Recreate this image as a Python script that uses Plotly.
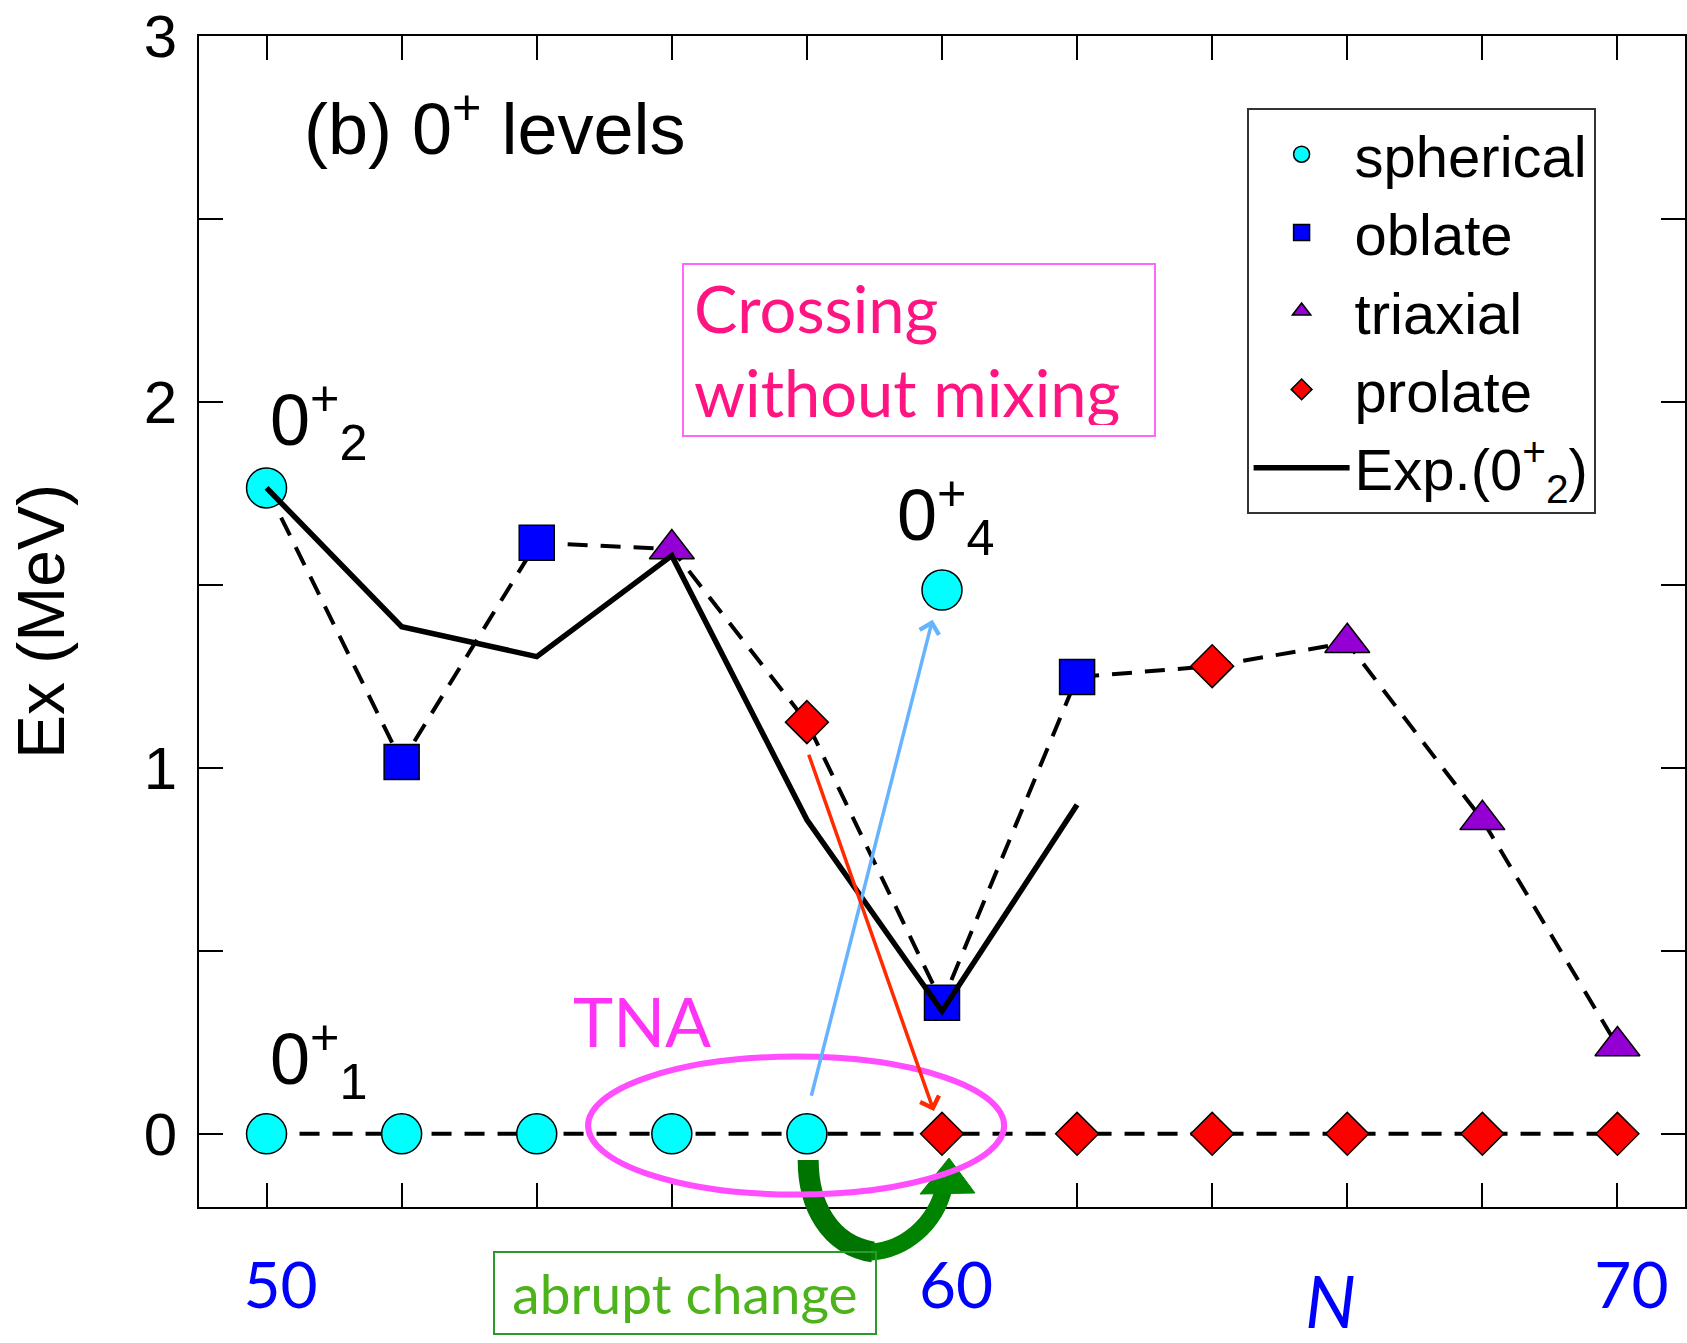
import plotly.graph_objects as go

# ---------------- data ----------------
N_ticks = [50, 52, 54, 56, 58, 60, 62, 64, 66, 68, 70]
N_ticktext = ["50", "", "", "", "", "60", "", "", "", "", "70"]
E_ticks = [0, 0.5, 1, 1.5, 2, 2.5, 3]
E_ticktext = ["0", "", "1", "", "2", "", "3"]

# theory 0+2 band (dashed) and 0+1 band (dashed)
th02_N = [50, 52, 54, 56, 58, 60, 62, 64, 66, 68, 70]
th02_E = [1.765, 1.016, 1.615, 1.598, 1.125, 0.358, 1.248, 1.278, 1.342, 0.858, 0.240]
th01_N = [50, 52, 54, 56, 58, 60, 62, 64, 66, 68, 70]
th01_E = [0, 0, 0, 0, 0, 0, 0, 0, 0, 0, 0]

# shapes of the states
sph_N = [50, 52, 54, 56, 58, 50, 60]
sph_E = [0, 0, 0, 0, 0, 1.765, 1.486]
obl_N = [52, 54, 60, 62]
obl_E = [1.016, 1.615, 0.358, 1.248]
tri_N = [56, 66, 68, 70]
tri_E = [1.598, 1.342, 0.858, 0.240]
pro_N = [58, 64, 60, 62, 64, 66, 68, 70]
pro_E = [1.125, 1.278, 0, 0, 0, 0, 0, 0]

# experiment 0+2
exp_N = [50, 52, 54, 56, 58, 60, 62]
exp_E = [1.765, 1.386, 1.304, 1.580, 0.858, 0.335, 0.899]

# ---------------- figure ----------------
W, H = 1687, 1343
ML, MR, MT, MB = 199, 0, 36, 136
PW, PH = W - ML - MR, H - MT - MB

SANS = "Liberation Sans, Arial, Helvetica, sans-serif"
HAND = "Comic Sans MS, Lato, sans-serif"

fig = go.Figure()

dash = "20px,13px"
fig.add_trace(go.Scatter(x=th02_N, y=th02_E, mode="lines",
                         line=dict(color="black", width=4, dash=dash),
                         showlegend=False, hoverinfo="skip"))
fig.add_trace(go.Scatter(x=th01_N, y=th01_E, mode="lines",
                         line=dict(color="black", width=4, dash=dash),
                         showlegend=False, hoverinfo="skip"))

mline = dict(color="black", width=1.5)
fig.add_trace(go.Scatter(x=sph_N, y=sph_E, mode="markers", name="spherical",
                         marker=dict(symbol="circle", size=40, color="#00ffff", line=mline)))
fig.add_trace(go.Scatter(x=obl_N, y=obl_E, mode="markers", name="oblate",
                         marker=dict(symbol="square", size=35, color="#0000ff", line=mline)))
fig.add_trace(go.Scatter(x=tri_N, y=tri_E, mode="markers", name="triaxial",
                         marker=dict(symbol="triangle-up", size=39, color="#9400d3", line=mline)))
fig.add_trace(go.Scatter(x=pro_N, y=pro_E, mode="markers", name="prolate",
                         marker=dict(symbol="diamond", size=33, color="#ff0000", line=mline)))
fig.add_trace(go.Scatter(x=exp_N, y=exp_E, mode="lines", name="Exp.(0<sup>+</sup><sub>2</sub>)",
                         line=dict(color="black", width=5.5)))


def px(X):
    return (X - ML) / PW


def py(Y):
    return (H - MB - Y) / PH


shapes = []
# green curved arrow ("abrupt change"): left branch (thick) and right branch (thinner)
gpath1 = ("M {},{} C {},{} {},{} {},{}".format(
    px(809), py(1160), px(809), py(1205), px(830), py(1245), px(874), py(1252)))
shapes.append(dict(type="path", xref="paper", yref="paper", path=gpath1,
                   line=dict(color="#007400", width=21), layer="above"))
gpath2 = ("M {},{} C {},{} {},{} {},{}".format(
    px(872), py(1252), px(905), py(1250), px(936), py(1225), px(945), py(1188)))
shapes.append(dict(type="path", xref="paper", yref="paper", path=gpath2,
                   line=dict(color="#008400", width=17), layer="above"))
hpath = "M {},{} L {},{} L {},{} Z".format(px(950), py(1158), px(921), py(1194), px(976), py(1193))
shapes.append(dict(type="path", xref="paper", yref="paper", path=hpath,
                   fillcolor="#008800", line=dict(color="#008800", width=1), layer="above"))
# TNA ellipse
shapes.append(dict(type="circle", xref="x", yref="y", x0=54.76, x1=60.92, y0=-0.166, y1=0.211,
                   line=dict(color="#ff4dff", width=6), layer="above"))

annotations = []
# arrows
annotations.append(dict(x=59.86, y=1.405, ax=58.06, ay=0.10, xref="x", yref="y", axref="x", ayref="y",
                        text="", showarrow=True, arrowhead=4, arrowsize=1.1, arrowwidth=3.5,
                        arrowcolor="#66b3ff", standoff=0))
annotations.append(dict(x=59.88, y=0.062, ax=58.02, ay=1.04, xref="x", yref="y", axref="x", ayref="y",
                        text="", showarrow=True, arrowhead=4, arrowsize=1.1, arrowwidth=3.5,
                        arrowcolor="#ff2a00", standoff=0))

annotations.append(dict(x=50.52, y=2.76, xref="x", yref="y", xanchor="left", yanchor="middle",
                        text="(b) 0<sup>+</sup> levels", showarrow=False,
                        font=dict(family=SANS, size=72, color="black")))
annotations.append(dict(x=50.02, y=1.95, xref="x", yref="y", xanchor="left", yanchor="middle",
                        text="0<sup>+</sup><sub>2</sub>", showarrow=False,
                        font=dict(family=SANS, size=72, color="black")))
annotations.append(dict(x=59.30, y=1.69, xref="x", yref="y", xanchor="left", yanchor="middle",
                        text="0<sup>+</sup><sub>4</sub>", showarrow=False,
                        font=dict(family=SANS, size=72, color="black")))
annotations.append(dict(x=50.02, y=0.205, xref="x", yref="y", xanchor="left", yanchor="middle",
                        text="0<sup>+</sup><sub>1</sub>", showarrow=False,
                        font=dict(family=SANS, size=72, color="black")))
annotations.append(dict(x=55.56, y=0.31, xref="x", yref="y", xanchor="center", yanchor="middle",
                        text="TNA", showarrow=False,
                        font=dict(family=HAND, size=68, color="#ff33f5")))
annotations.append(dict(x=px(920), y=py(350), xref="paper", yref="paper",
                        xanchor="center", yanchor="middle", align="left",
                        width=450, height=150, borderpad=10, borderwidth=2, bordercolor="#ff66ff",
                        text="Crossing<br>without mixing", showarrow=False,
                        font=dict(family=HAND, size=65, color="#ff1481")))
annotations.append(dict(x=px(685.5), y=py(1292.5), xref="paper", yref="paper",
                        xanchor="center", yanchor="middle",
                        width=372, height=72, borderpad=4, borderwidth=2, bordercolor="#2a9a2a",
                        text="abrupt change", showarrow=False,
                        font=dict(family=HAND, size=55, color="#4db31a")))
annotations.append(dict(x=65.75, y=py(1300), xref="x", yref="paper",
                        xanchor="center", yanchor="middle",
                        text="<i>N</i>", showarrow=False,
                        font=dict(family=HAND, size=72, color="#0000ff")))

fig.update_layout(
    width=W, height=H, autosize=False,
    margin=dict(l=ML, r=MR, t=MT, b=MB, pad=0),
    paper_bgcolor="white", plot_bgcolor="white",
    font=dict(family=SANS, color="black"),
    shapes=shapes, annotations=annotations,
    legend=dict(x=px(1248), y=py(108), xanchor="left", yanchor="top",
                bgcolor="white", bordercolor="#333333", borderwidth=2,
                font=dict(family=SANS, size=58, color="black"),
                itemwidth=96, tracegroupgap=0),
)
fig.update_xaxes(range=[49, 71], tickmode="array", tickvals=N_ticks, ticktext=N_ticktext,
                 ticks="inside", ticklen=24, tickwidth=1.5, tickcolor="black",
                 showline=True, linecolor="black", linewidth=2, mirror="ticks",
                 showgrid=False, zeroline=False,
                 tickfont=dict(family=HAND, size=64, color="#0000ff"),
                 ticklabelstandoff=22, ticklabelshift=14)
fig.update_yaxes(range=[-0.2, 3], tickmode="array", tickvals=E_ticks, ticktext=E_ticktext,
                 ticks="inside", ticklen=24, tickwidth=1.5, tickcolor="black",
                 showline=True, linecolor="black", linewidth=2, mirror="ticks",
                 showgrid=False, zeroline=False,
                 tickfont=dict(family=SANS, size=60, color="black"),
                 ticklabelstandoff=8,
                 title=dict(text="Ex (MeV)", font=dict(family=SANS, size=66, color="black"),
                            standoff=58))

fig.write_html("out.html")
